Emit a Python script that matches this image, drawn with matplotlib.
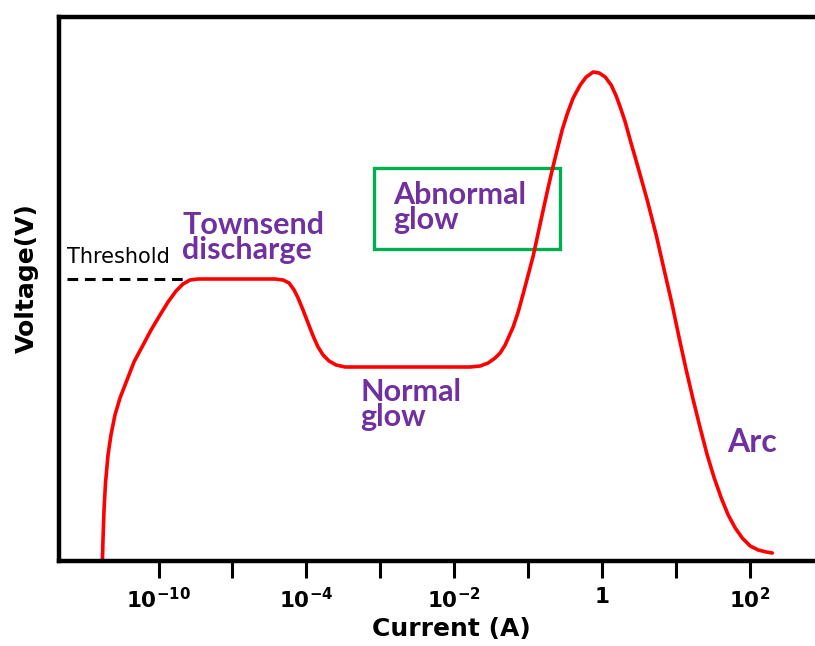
import matplotlib
matplotlib.use("Agg")
import matplotlib.pyplot as plt
from matplotlib.patches import Rectangle

# x: position along the (log) current axis, one unit per tick
# y: voltage in arbitrary units (0 = bottom of the plot, 544 = top)
current_pos = [-0.758, -0.751, -0.737, -0.717, -0.683, -0.643, -0.589, -0.521, -0.426,
               -0.332, -0.223, -0.101, 0.020, 0.129, 0.237, 0.332, 0.426, 0.535,
               1.576, 1.685, 1.766, 1.834, 1.888, 1.955, 2.023, 2.091, 2.158, 2.226,
               2.307, 2.402, 2.524,
               4.215, 4.351, 4.459, 4.553, 4.621, 4.689, 4.743, 4.797, 4.865, 4.932,
               5.000, 5.068, 5.162, 5.257, 5.325, 5.392, 5.460, 5.528, 5.609, 5.704,
               5.785, 5.880, 5.961, 6.042, 6.123, 6.191, 6.245, 6.313, 6.380, 6.489,
               6.610, 6.732, 6.840, 6.949, 7.043, 7.138, 7.233, 7.327, 7.422, 7.517,
               7.612, 7.706, 7.801, 7.896, 8.004, 8.112, 8.221, 8.302]
voltage = [2, 21, 51, 78, 106, 126, 146, 163, 181,
           199, 214, 231, 246, 259, 270, 277, 281, 282,
           282, 281, 278, 271, 263, 251, 238, 225, 214, 206,
           200, 196, 194,
           194, 195, 198, 203, 208, 216, 225, 234, 249, 267,
           286, 305, 337, 369, 391, 411, 431, 447, 463, 476,
           484, 489, 488, 484, 476, 465, 454, 439, 421, 393,
           361, 326, 291, 256, 223, 191, 161, 133, 106, 83,
           63, 46, 33, 23, 15, 11, 9, 8]

threshold = 282
threshold_x = [-1.238, 0.359]

tick_pos = [0, 1, 2, 3, 4, 5, 6, 7, 8]
tick_labels = [r'$\mathbf{10^{-10}}$', '', r'$\mathbf{10^{-4}}$', '',
               r'$\mathbf{10^{-2}}$', '', r'$\mathbf{1}$', '', r'$\mathbf{10^{2}}$']

purple = '#7030A0'
green = '#00B050'

plt.rcParams['mathtext.fontset'] = 'dejavusans'

fig = plt.figure(figsize=(8.15, 6.46), dpi=100)
ax = fig.add_axes([59 / 815, 1 - 561 / 646, 1 - 59 / 815, 544 / 646])

ax.plot(current_pos, voltage, color='red', linewidth=2.6,
        solid_joinstyle='round', solid_capstyle='round')
ax.plot(threshold_x, [threshold, threshold], color='black', linewidth=2.2,
        linestyle=(0, (3.5, 2.2)))

ax.set_xlim(-1.346, 8.88)
ax.set_ylim(0, 544)

for side in ['left', 'top', 'bottom']:
    ax.spines[side].set_linewidth(3.2)
ax.spines['right'].set_visible(False)

ax.set_xticks(tick_pos)
ax.set_xticklabels(tick_labels, fontsize=15.5)
ax.tick_params(axis='x', length=12, width=2.2, direction='out', pad=7)
ax.set_yticks([])

ax.set_xlabel('Current (A)', fontsize=18, fontweight='bold', family='DejaVu Sans')
ax.xaxis.set_label_coords((451 - 59) / 756, -0.103)
ax.set_ylabel('Voltage(V)', fontsize=18, fontweight='bold', family='DejaVu Sans')
ax.yaxis.set_label_coords(-0.026, 0.52)

ax.text(-1.238, 294, 'Threshold', fontsize=15, color='black', ha='left', va='bottom')

lab = dict(fontsize=22, fontweight='bold', family='Lato', color=purple,
           ha='left', va='top', linespacing=0.85)
ax.text(0.318, 350, 'Townsend\ndischarge', **lab)
ax.text(3.17, 380, 'Abnormal\nglow', **lab)
ax.text(2.727, 183, 'Normal\nglow', **lab)
ax.text(7.69, 119, 'Arc', fontsize=23, fontweight='bold', family='Lato', color=purple,
        ha='left', va='center')

ax.add_patch(Rectangle((2.916, 312), 5.433 - 2.916, 393 - 312, fill=False,
                       edgecolor=green, linewidth=2.4))

fig.savefig('out.png', dpi=100)
